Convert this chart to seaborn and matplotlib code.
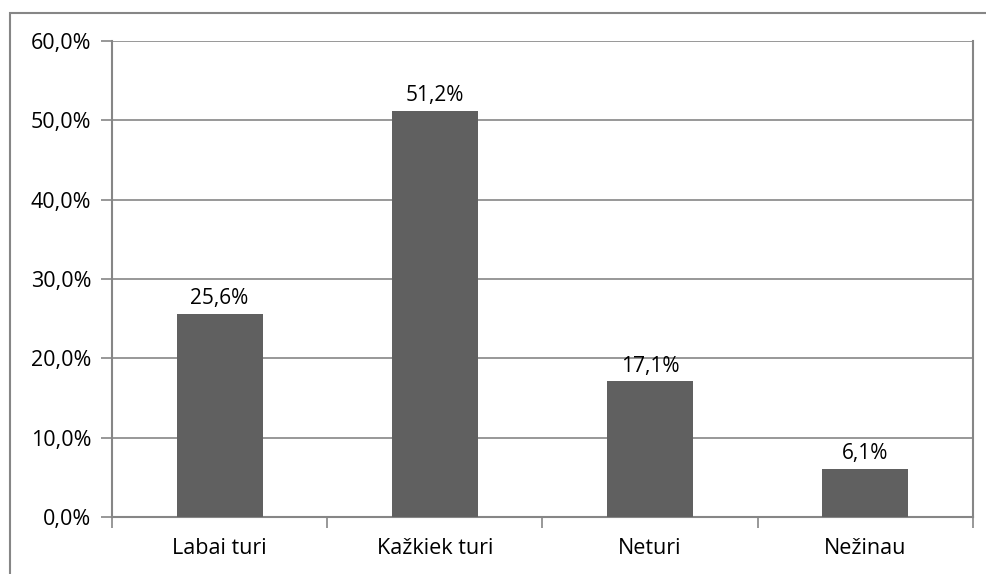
import matplotlib
matplotlib.use("Agg")
import matplotlib.pyplot as plt
import seaborn as sns
import pandas as pd
from matplotlib.patches import Rectangle
from matplotlib.ticker import FuncFormatter, MultipleLocator

# ── data ──────────────────────────────────────────────────────────────────────
categories = ["Labai turi", "Kažkiek turi", "Neturi", "Nežinau"]
shares = [25.6, 51.2, 17.1, 6.1]
value_labels = ["25,6%", "51,2%", "17,1%", "6,1%"]

BAR_COLOR = "#606060"
GRID_COLOR = "#868686"

sns.set_theme(style="white")
plt.rcParams["font.family"] = ["Open Sans", "DejaVu Sans"]

df = pd.DataFrame({"category": categories, "share": shares})

fig = plt.figure(figsize=(9.87, 5.74), dpi=100)
ax = fig.add_axes([112 / 987, 1 - 517 / 574, (973 - 112) / 987, (517 - 41) / 574])

# outer chart frame (cut off at right and bottom like the source)
fig.patches.append(Rectangle((10 / 987, -0.1), 1.2, 1 - 13 / 574 + 0.1,
                             transform=fig.transFigure, fill=False,
                             edgecolor=GRID_COLOR, lw=1.5, zorder=0))

sns.barplot(data=df, x="category", y="share", color=BAR_COLOR, width=0.4,
            saturation=1, linewidth=0, ax=ax, zorder=3)

for i, lbl in enumerate(value_labels):
    ax.text(i, shares[i] + 0.6, lbl, ha="center", va="bottom", fontsize=15,
            color="black")

ax.set_ylim(0, 60)
ax.set_xlim(-0.5, 3.5)
ax.yaxis.set_major_locator(MultipleLocator(10))
ax.yaxis.set_major_formatter(FuncFormatter(lambda v, _: f"{v:.1f}%".replace(".", ",")))
ax.grid(axis="y", color=GRID_COLOR, lw=1.2, zorder=0)
ax.set_axisbelow(True)

for side in ["left", "bottom", "right", "top"]:
    ax.spines[side].set_color(GRID_COLOR)
    ax.spines[side].set_linewidth(1.5)
ax.spines["top"].set_visible(False)

# x ticks sit between categories
ax.set_xticks([-0.5, 0.5, 1.5, 2.5, 3.5], minor=True)
ax.tick_params(axis="x", which="minor", length=8, width=1.2, color=GRID_COLOR,
               direction="out", bottom=True)
ax.tick_params(axis="x", which="major", length=0, labelsize=15.5, pad=15,
               labelcolor="black")
ax.tick_params(axis="y", length=8, width=1.2, color=GRID_COLOR, direction="out",
               left=True, labelsize=15.5, pad=7, labelcolor="black")

ax.set_xlabel("")
ax.set_ylabel("")

fig.savefig("out.png", dpi=100, facecolor="white")
plt.close(fig)
